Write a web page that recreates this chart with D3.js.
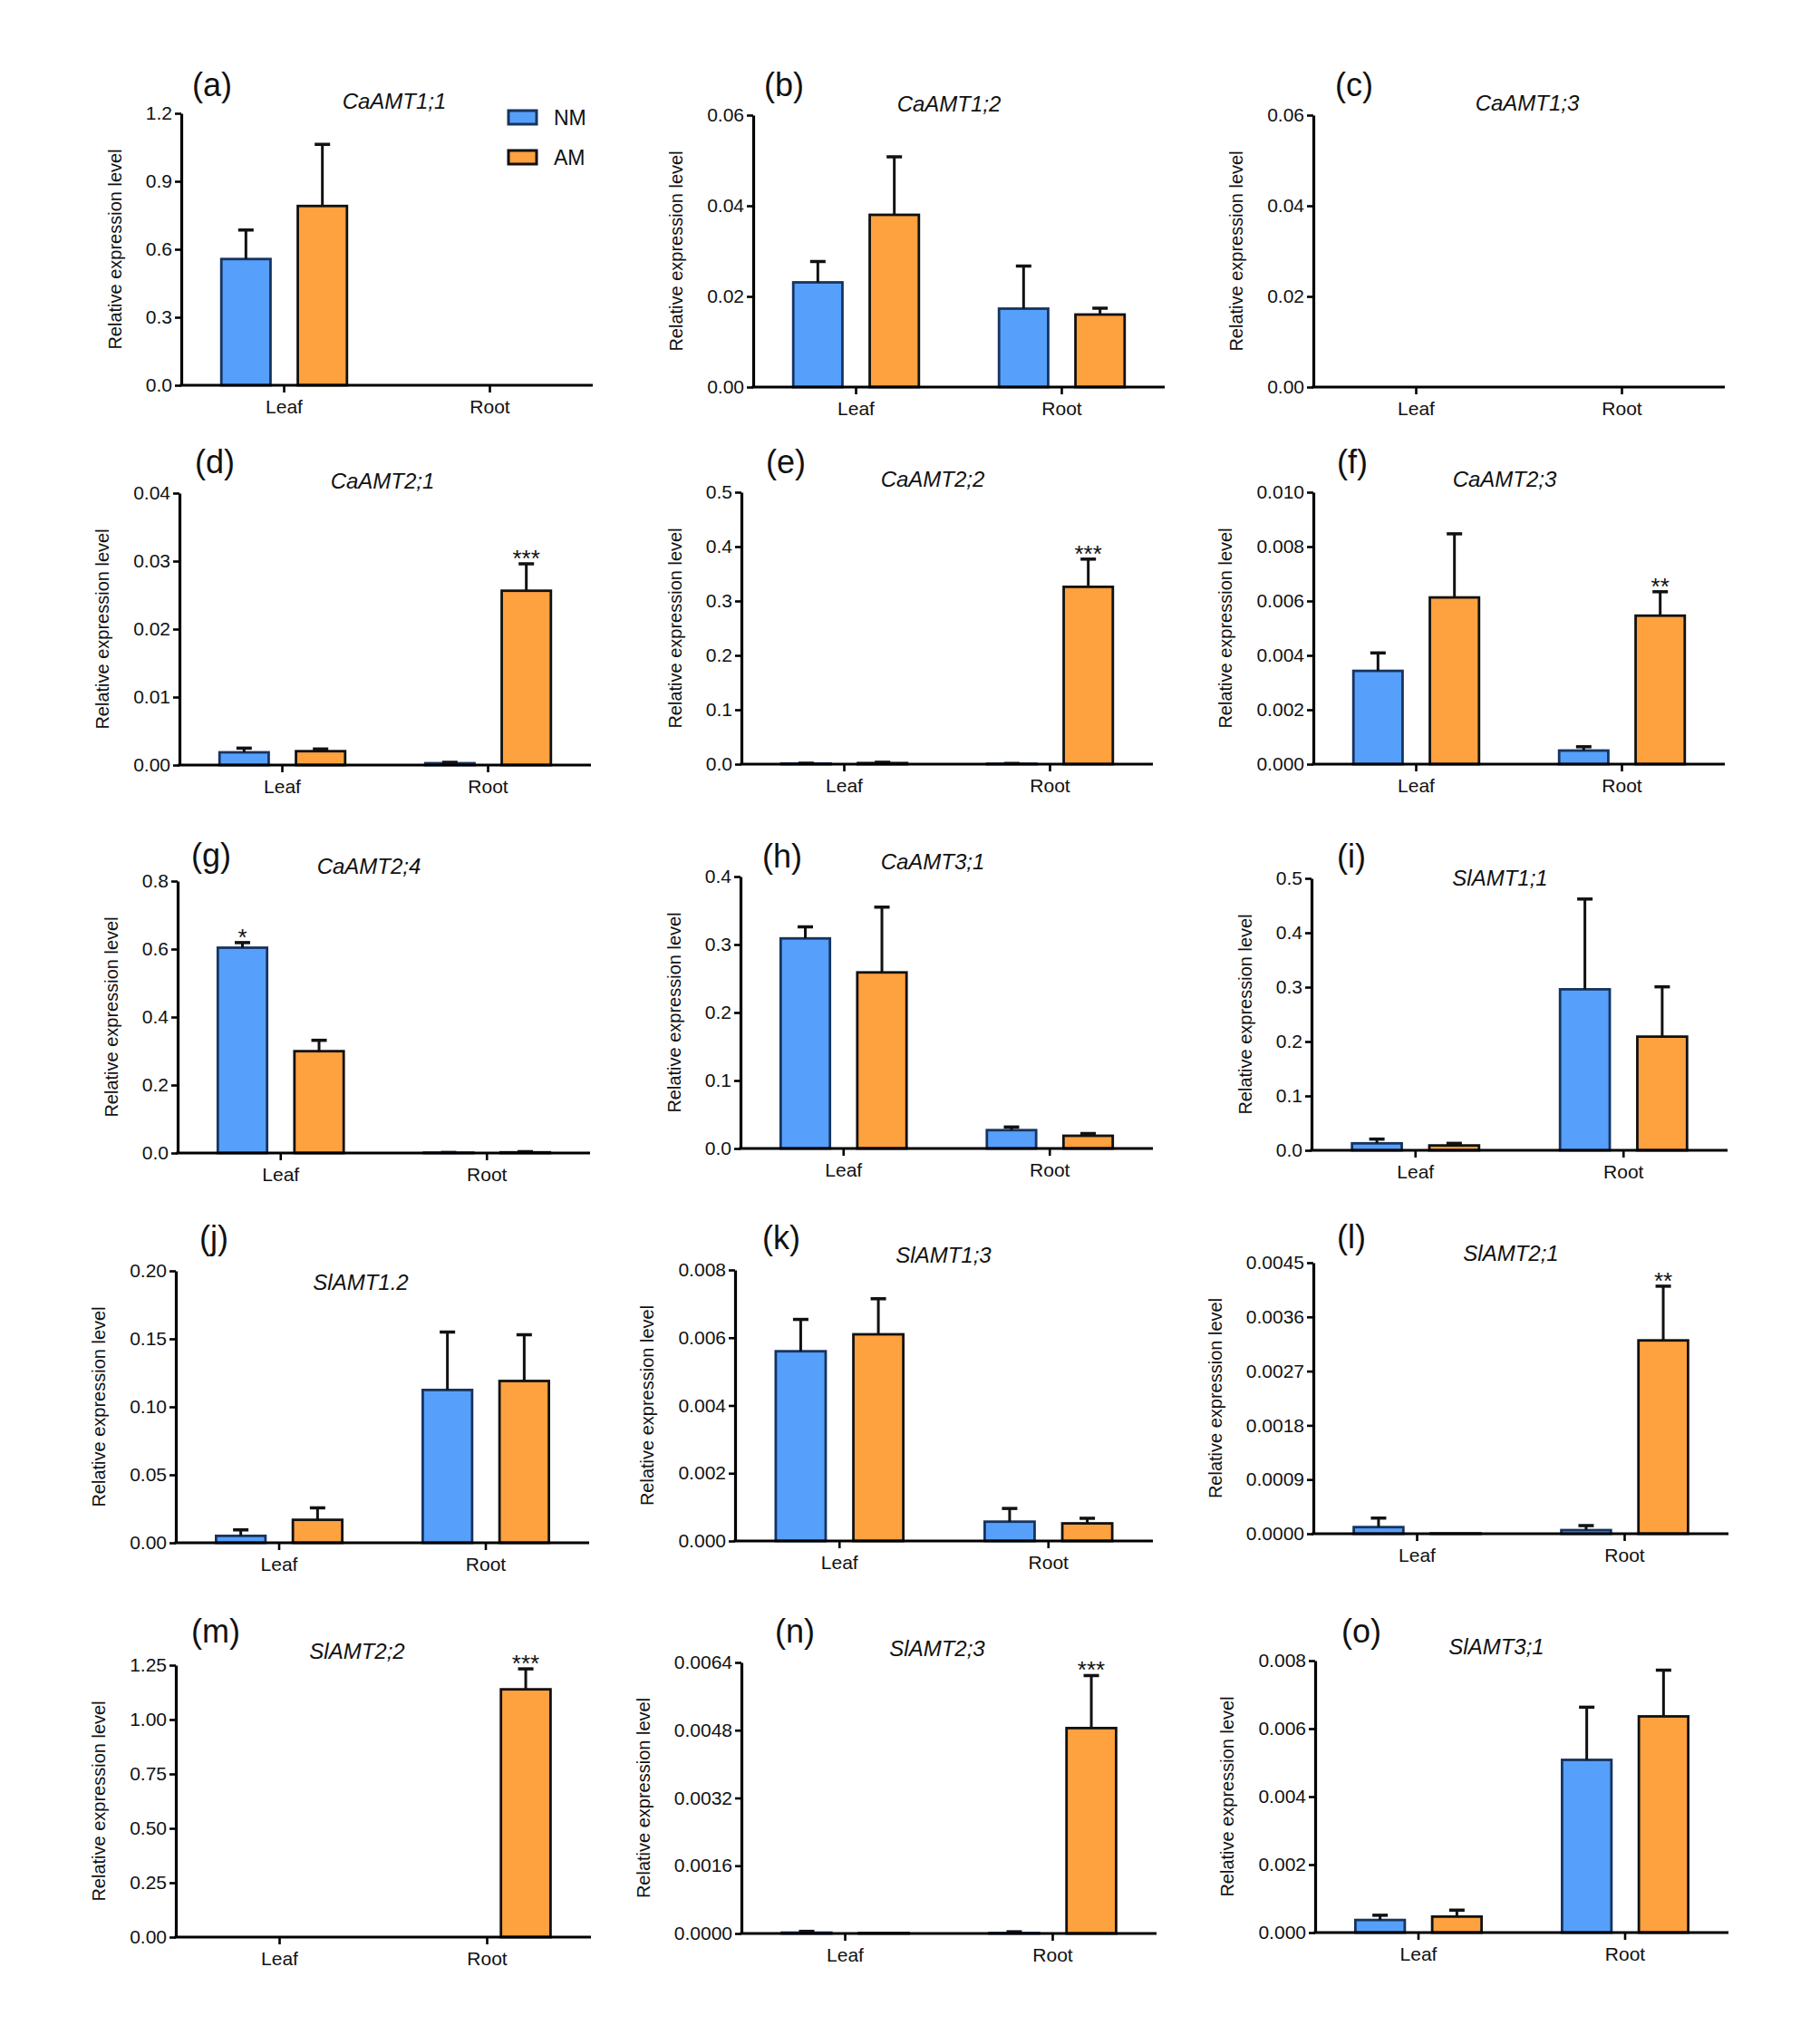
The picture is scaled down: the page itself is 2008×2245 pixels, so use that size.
<!DOCTYPE html>
<html>
<head>
<meta charset="utf-8">
<script src="https://cdn.jsdelivr.net/npm/d3@7"></script>
<style>
  html, body { margin: 0; padding: 0; background: #fff; }
  svg { display: block; font-family: "Liberation Sans", Arial, Helvetica, sans-serif; }
</style>
</head>
<body>
<svg id="chart" width="2008" height="2245"></svg>
<script>
// ---------------- DATA ----------------
const panelLetters = ["a","b","c","d","e","f","g","h","i","j","k","l","m","n","o"];
const genes = ["CaAMT1;1","CaAMT1;2","CaAMT1;3","CaAMT2;1","CaAMT2;2","CaAMT2;3","CaAMT2;4","CaAMT3;1",
               "SlAMT1;1","SlAMT1.2","SlAMT1;3","SlAMT2;1","SlAMT2;2","SlAMT2;3","SlAMT3;1"];
const categories = ["Leaf","Root"];
const seriesNames = ["NM","AM"];
const yAxisTitle = "Relative expression level";

const yTickLabels = [
  ["0.0","0.3","0.6","0.9","1.2"],
  ["0.00","0.02","0.04","0.06"],
  ["0.00","0.02","0.04","0.06"],
  ["0.00","0.01","0.02","0.03","0.04"],
  ["0.0","0.1","0.2","0.3","0.4","0.5"],
  ["0.000","0.002","0.004","0.006","0.008","0.010"],
  ["0.0","0.2","0.4","0.6","0.8"],
  ["0.0","0.1","0.2","0.3","0.4"],
  ["0.0","0.1","0.2","0.3","0.4","0.5"],
  ["0.00","0.05","0.10","0.15","0.20"],
  ["0.000","0.002","0.004","0.006","0.008"],
  ["0.0000","0.0009","0.0018","0.0027","0.0036","0.0045"],
  ["0.00","0.25","0.50","0.75","1.00","1.25"],
  ["0.0000","0.0016","0.0032","0.0048","0.0064"],
  ["0.000","0.002","0.004","0.006","0.008"]
];

// [Leaf, Root]
const nmMean = [
  [0.557, 0], [0.0231, 0.0173], [0, 0], [0.00187, 0.00027], [0.0012, 0.0008],
  [0.00343, 0.0005], [0.604, 0.0012], [0.309, 0.027], [0.0128, 0.296], [0.0051, 0.1124],
  [0.0056, 0.00057], [0.00011, 0.00006], [0, 0], [0.00002, 0.00001], [0.00037, 0.00508]
];
const nmErr = [
  [0.128, 0], [0.0046, 0.0094], [0, 0], [0.00062, 0.00013], [0.0005, 0.0005],
  [0.00066, 0.00014], [0.015, 0.0005], [0.017, 0.0046], [0.0078, 0.166], [0.0044, 0.0426],
  [0.00094, 0.00039], [0.00015, 0.000075], [0, 0], [0.00003, 0.00003], [0.00014, 0.00155]
];
const amMean = [
  [0.791, 0], [0.0380, 0.0160], [0, 0], [0.00204, 0.02564], [0.002, 0.326],
  [0.00613, 0.00546], [0.2996, 0.002], [0.259, 0.0187], [0.0089, 0.209], [0.0169, 0.119],
  [0.0061, 0.00052], [0.000005, 0.00321], [0, 1.139], [0.00001, 0.00485], [0.00047, 0.00636]
];
const amErr = [
  [0.272, 0], [0.0128, 0.0014], [0, 0], [0.00032, 0.00396], [0.0015, 0.051],
  [0.00234, 0.00088], [0.032, 0.002], [0.096, 0.0033], [0.0039, 0.0916], [0.0088, 0.034],
  [0.00105, 0.00015], [0, 0.0009], [0, 0.094], [0, 0.00124], [0.00019, 0.00136]
];
const nmSig = [
  ["",""],["",""],["",""],["",""],["",""],["",""],["*",""],["",""],
  ["",""],["",""],["",""],["",""],["",""],["",""],["",""]
];
const amSig = [
  ["",""],["",""],["",""],["","***"],["","***"],["","**"],["",""],["",""],
  ["",""],["",""],["",""],["","**"],["","***"],["","***"],["",""]
];

// ---------------- LAYOUT (positions only) ----------------
// [axisLeft, axisRight, plotTop, plotBottom]
const frames = [
  [200, 654, 125, 425], [831, 1285, 127, 427], [1449, 1903, 127, 427],
  [198, 652, 544, 844], [818, 1272, 543, 843], [1449, 1903, 543, 843],
  [196, 651, 972, 1272], [817, 1272, 967, 1267], [1447, 1906, 969, 1269],
  [194, 650, 1402, 1702], [811, 1272, 1401, 1700], [1449, 1907, 1393, 1692],
  [194, 652, 1837, 2137], [818, 1276, 1834, 2133], [1451, 1907, 1832, 2132]
];
// gene title [centerX, baselineY]
const titlePos = [
  [435, 120], [1047, 123], [1685, 122],
  [422, 539], [1029, 537], [1660, 537],
  [407, 964], [1029, 959], [1655, 977],
  [398, 1423], [1041, 1393], [1667, 1391],
  [394, 1830], [1034, 1827], [1651, 1825]
];
// panel letter [leftX, baselineY]
const letterPos = [
  [212, 106], [843, 106], [1473, 106],
  [215, 522], [845, 522], [1475, 522],
  [211, 956], [841, 957], [1475, 957],
  [220, 1378], [841, 1378], [1475, 1377],
  [211, 1812], [855, 1812], [1480, 1812]
];

const colors = { NM: { fill: "#56a0fb", stroke: "#17345f" }, AM: { fill: "#fea13f", stroke: "#111111" } };

// ---------------- DRAW ----------------
const svg = d3.select("#chart");
svg.append("rect").attr("width", 2008).attr("height", 2245).attr("fill", "#fff");

panelLetters.forEach((letter, i) => {
  const [x0, x1, yt, yb] = frames[i];
  const g = svg.append("g");
  const tickVals = yTickLabels[i].map(Number);
  const yMax = tickVals[tickVals.length - 1];

  const x = d3.scaleBand().domain(categories).range([x0, x1]).padding(0);
  const xs = d3.scaleBand().domain(seriesNames).range([0, x.bandwidth()])
               .paddingInner(0.357).paddingOuter(0.524);
  const y = d3.scaleLinear().domain([0, yMax]).range([yb, yt]);

  const rows = [];
  categories.forEach((c, ci) => {
    rows.push({ cat: c, s: "NM", v: nmMean[i][ci], e: nmErr[i][ci], sig: nmSig[i][ci] });
    rows.push({ cat: c, s: "AM", v: amMean[i][ci], e: amErr[i][ci], sig: amSig[i][ci] });
  });

  // bars
  g.selectAll("rect.bar").data(rows.filter(d => d.v > 0)).join("rect")
    .attr("class", "bar")
    .attr("x", d => x(d.cat) + xs(d.s))
    .attr("width", xs.bandwidth())
    .attr("y", d => y(d.v))
    .attr("height", d => Math.max(0, y(0) - y(d.v)))
    .attr("fill", d => colors[d.s].fill)
    .attr("stroke", d => colors[d.s].stroke)
    .attr("stroke-width", 2.8);

  // error bars (upper only)
  const capW = 17;
  const eb = g.selectAll("g.err").data(rows.filter(d => d.e > 0)).join("g").attr("class", "err");
  eb.append("line")
    .attr("x1", d => x(d.cat) + xs(d.s) + xs.bandwidth() / 2)
    .attr("x2", d => x(d.cat) + xs(d.s) + xs.bandwidth() / 2)
    .attr("y1", d => y(d.v))
    .attr("y2", d => y(d.v + d.e))
    .attr("stroke", "#111").attr("stroke-width", 3);
  eb.append("line")
    .attr("x1", d => x(d.cat) + xs(d.s) + xs.bandwidth() / 2 - capW / 2)
    .attr("x2", d => x(d.cat) + xs(d.s) + xs.bandwidth() / 2 + capW / 2)
    .attr("y1", d => y(d.v + d.e))
    .attr("y2", d => y(d.v + d.e))
    .attr("stroke", "#111").attr("stroke-width", 3.5);

  // significance stars
  g.selectAll("text.sig").data(rows.filter(d => d.sig)).join("text")
    .attr("class", "sig")
    .attr("x", d => x(d.cat) + xs(d.s) + xs.bandwidth() / 2)
    .attr("y", d => y(d.v + d.e) + 3)
    .attr("text-anchor", "middle")
    .attr("font-size", 26)
    .attr("fill", "#111")
    .text(d => d.sig);

  // axes
  const yAxis = g.append("g").attr("transform", `translate(${x0},0)`)
    .call(d3.axisLeft(y).tickValues(tickVals).tickFormat((d, k) => yTickLabels[i][k])
          .tickSize(7).tickPadding(3).tickSizeOuter(0));
  yAxis.select(".domain").attr("stroke", "#000").attr("stroke-width", 3.2);
  yAxis.selectAll(".tick line").attr("stroke", "#000").attr("stroke-width", 2.6);
  yAxis.selectAll(".tick text").attr("font-size", 21).attr("fill", "#111")
       .attr("font-family", "'Liberation Sans', Arial, sans-serif");

  const xAxis = g.append("g").attr("transform", `translate(0,${yb})`)
    .call(d3.axisBottom(x).tickSize(8).tickPadding(8).tickSizeOuter(0));
  xAxis.select(".domain").attr("stroke", "#000").attr("stroke-width", 3.2)
       .attr("d", `M${x0 - 1.6},0H${x1}`);
  xAxis.selectAll(".tick line").attr("stroke", "#000").attr("stroke-width", 2.6);
  xAxis.selectAll(".tick text").attr("font-size", 21).attr("fill", "#111")
       .attr("font-family", "'Liberation Sans', Arial, sans-serif");

  // y axis title
  const bb = yAxis.node().getBBox();
  const tx = x0 + bb.x - 27;
  g.append("text")
    .attr("transform", `translate(${tx},${(yt + yb) / 2}) rotate(-90)`)
    .attr("text-anchor", "middle")
    .attr("font-size", 20)
    .attr("fill", "#111")
    .text(yAxisTitle);

  // gene title
  g.append("text")
    .attr("x", titlePos[i][0]).attr("y", titlePos[i][1])
    .attr("text-anchor", "middle")
    .attr("font-size", 24)
    .attr("font-style", "italic")
    .attr("fill", "#111")
    .text(genes[i]);

  // panel letter
  g.append("text")
    .attr("x", letterPos[i][0]).attr("y", letterPos[i][1])
    .attr("font-size", 36)
    .attr("fill", "#111")
    .text(`(${letter})`);

  // legend in first panel
  if (i === 0) {
    const lg = g.append("g").attr("transform", `translate(${x0 + 361},${yt - 3})`);
    seriesNames.forEach((s, k) => {
      lg.append("rect").attr("x", 0).attr("y", k * 44).attr("width", 31).attr("height", 15)
        .attr("fill", colors[s].fill).attr("stroke", colors[s].stroke).attr("stroke-width", 3);
      lg.append("text").attr("x", 50).attr("y", k * 44 + 16)
        .attr("font-size", 23).attr("fill", "#111").text(s);
    });
  }
});
</script>
</body>
</html>
